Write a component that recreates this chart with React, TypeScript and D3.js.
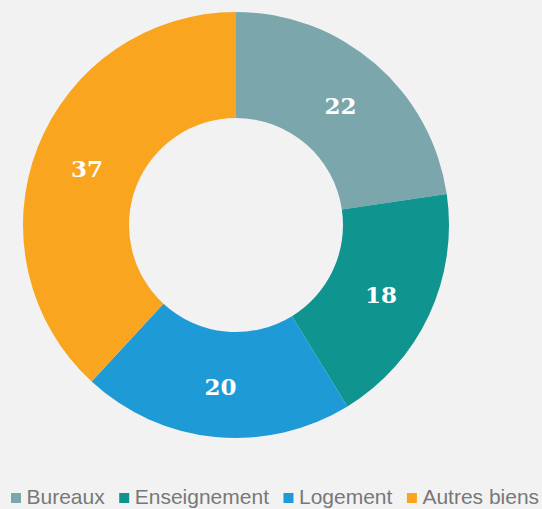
import React, { useEffect, useRef } from "react";
import * as d3 from "d3";

const categories = ["Bureaux", "Enseignement", "Logement", "Autres biens"];
const values = [22, 18, 20, 37];
const colors = ["#7ba7ac", "#0f9490", "#1e9bd7", "#f9a51f"];

const W = 542;
const H = 509;

export default function App() {
  const ref = useRef<SVGSVGElement>(null);
  useEffect(() => {
    const svg = d3.select(ref.current);
    svg.selectAll("*").remove();
    svg.append("rect").attr("width", W).attr("height", H).attr("fill", "#f2f2f2");

    const cx = 236, cy = 225, outerR = 213, innerR = 107;
    const pie = d3.pie<number>().sort(null).value((d) => d);
    const arcs = pie(values);
    const arc = d3.arc<d3.PieArcDatum<number>>().innerRadius(innerR).outerRadius(outerR);
    const labelArc = d3.arc<d3.PieArcDatum<number>>().innerRadius(160).outerRadius(160);
    const g = svg.append("g").attr("transform", `translate(${cx},${cy})`);
    g.selectAll("path.slice")
      .data(arcs)
      .join("path")
      .attr("class", "slice")
      .attr("d", arc as any)
      .attr("fill", (_d, i) => colors[i]);
    g.selectAll("text.lbl")
      .data(arcs)
      .join("text")
      .attr("class", "lbl")
      .attr("transform", (d) => {
        const [x, y] = labelArc.centroid(d);
        return `translate(${x},${y + 2})`;
      })
      .attr("text-anchor", "middle")
      .attr("dy", "0.36em")
      .attr("fill", "#ffffff")
      .attr("font-family", "'DejaVu Serif', Georgia, serif")
      .attr("font-weight", "bold")
      .attr("font-size", 23)
      .text((d) => String(d.data));

    // legend
    const lg = svg.append("g");
    const items = lg
      .selectAll("g.item")
      .data(categories)
      .join("g")
      .attr("class", "item");
    items
      .append("rect")
      .attr("width", 10)
      .attr("height", 10)
      .attr("y", -11)
      .attr("fill", (_d, i) => colors[i]);
    const texts = items
      .append("text")
      .attr("x", 15.5)
      .attr("fill", "#787878")
      .attr("font-family", "'Liberation Sans', Arial, sans-serif")
      .attr("font-size", 21)
      .text((d) => d);
    let x = 11;
    texts.each(function (_d, i) {
      const w = (this as SVGTextElement).getComputedTextLength();
      d3.select((items.nodes() as any)[i]).attr("transform", `translate(${x},504)`);
      x += 15.5 + w + 14.5;
    });
  }, []);
  return (
    <svg
      ref={ref}
      width={W}
      height={H}
      style={{ position: "fixed", left: 0, top: 0, display: "block" }}
    />
  );
}
